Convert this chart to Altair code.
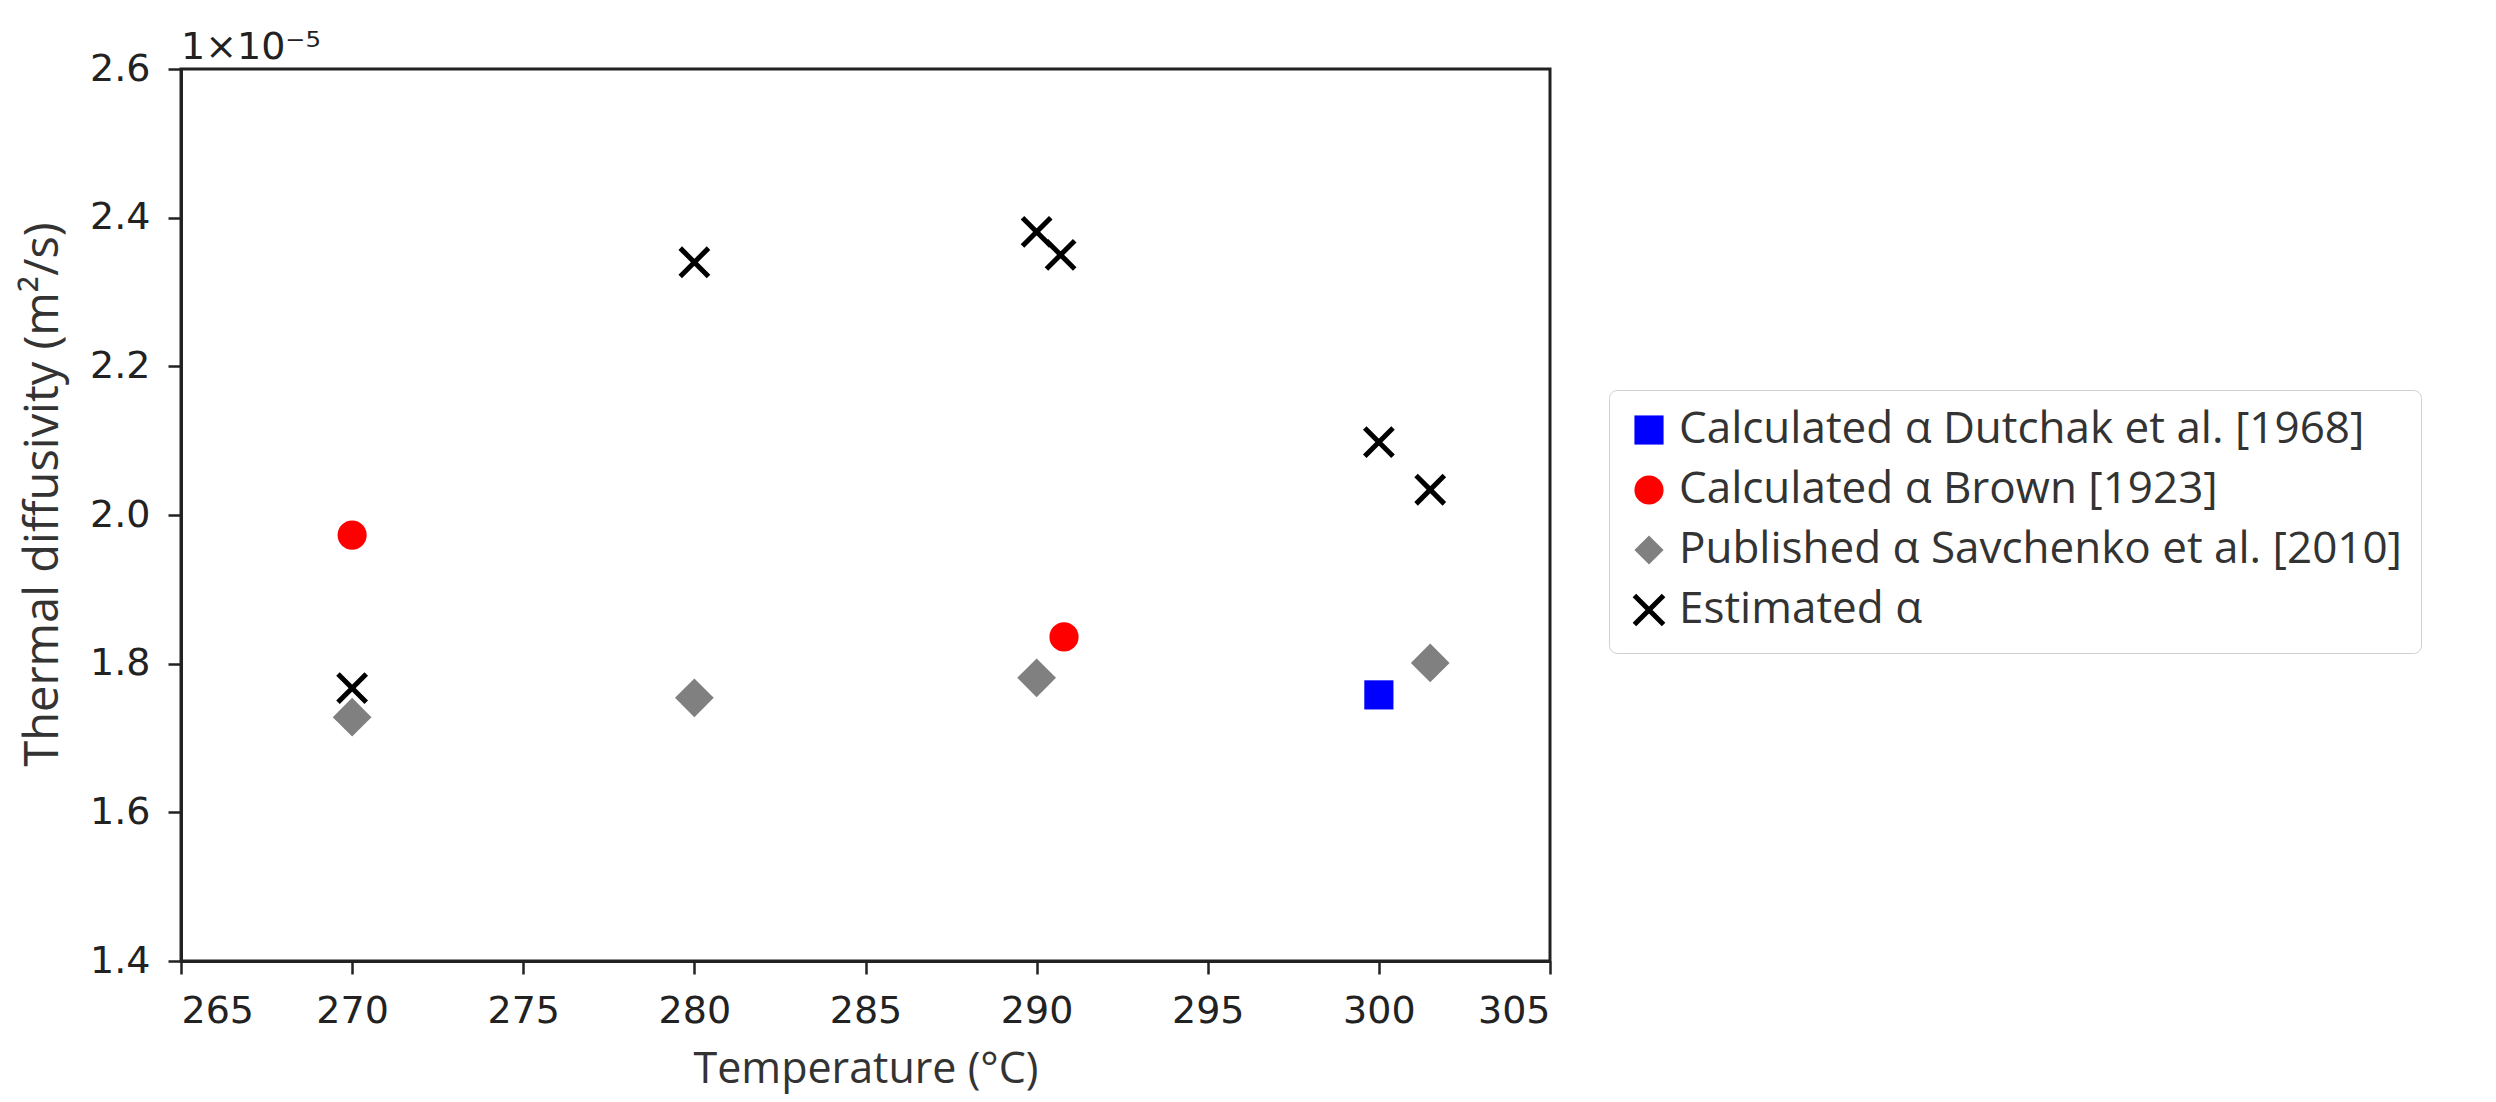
import altair as alt
import pandas as pd

# ---- data (values in units of 1e-5 m^2/s) ----
series_names = [
    "Calculated α Dutchak et al. [1968]",
    "Calculated α Brown [1923]",
    "Published α Savchenko et al. [2010]",
    "Estimated α",
]
dutchak_T = [300.0]
dutchak_a = [1.758]
brown_T = [270.0, 290.8]
brown_a = [1.973, 1.836]
savch_T = [270.0, 280.0, 290.0, 301.5]
savch_a = [1.728, 1.754, 1.781, 1.801]
est_T = [270.0, 280.0, 290.0, 290.7, 300.0, 301.5]
est_a = [1.767, 2.340, 2.381, 2.350, 2.098, 2.034]

x_ticks = [265, 270, 275, 280, 285, 290, 295, 300, 305]
y_ticks = [1.4, 1.6, 1.8, 2.0, 2.2, 2.4, 2.6]
scale_exp = 1e-5

# marker area (px^2) per series, same order as series_names
marker_sizes = [850, 850, 1500, 800]

rows = []
for name, Ts, As, sz in zip(series_names,
                            [dutchak_T, brown_T, savch_T, est_T],
                            [dutchak_a, brown_a, savch_a, est_a],
                            marker_sizes):
    for t, a in zip(Ts, As):
        rows.append({"series": name, "T": t, "alpha": a * scale_exp, "sz": sz})
df = pd.DataFrame(rows)

y_tick_vals = [v * scale_exp for v in y_ticks]

x_path = "M-1,-1L1,1M1,-1L-1,1"
fills = ["#0000ff", "#ff0000", "#808080", "transparent"]
strokes = ["transparent", "transparent", "transparent", "#000000"]
shapes = ["square", "circle", "diamond", x_path]

legend = alt.Legend(
    title=None,
    orient="none",
    legendX=1428,
    legendY=321,
    direction="vertical",
    strokeColor="#d0d0d0",
    fillColor="white",
    cornerRadius=8,
    padding=18,
    rowPadding=10,
    labelFont="Open Sans",
    labelFontSize=44,
    labelColor="#333333",
    labelOffset=8,
    labelLimit=1200,
    symbolStrokeWidth=5,
    symbolSize=850,
)

chart = alt.Chart(df).mark_point(strokeWidth=5, opacity=1).encode(
    x=alt.X("T:Q",
            scale=alt.Scale(domain=[265, 305], nice=False, zero=False),
            axis=alt.Axis(values=x_ticks, title="Temperature (°C)", format="d")),
    y=alt.Y("alpha:Q",
            scale=alt.Scale(domain=[y_tick_vals[0], y_tick_vals[-1]], nice=False, zero=False),
            axis=alt.Axis(values=y_tick_vals,
                          labelExpr="format(datum.value*1e5, '.1f')",
                          title="Thermal diffusivity (m²/s)",
                          titleY=425)),
    fill=alt.Fill("series:N", scale=alt.Scale(domain=series_names, range=fills), legend=legend, sort=series_names),
    stroke=alt.Stroke("series:N", scale=alt.Scale(domain=series_names, range=strokes), legend=legend, sort=series_names),
    shape=alt.Shape("series:N", scale=alt.Scale(domain=series_names, range=shapes), legend=legend, sort=series_names),
    size=alt.Size("sz:Q", scale=None, legend=None),
    order=alt.Order("series:N"),
).properties(
    width=1369,
    height=892,
    title=alt.TitleParams("1×10⁻⁵", anchor="start", frame="group",
                          font="DejaVu Sans", fontSize=38, fontWeight="normal",
                          color="#222222", offset=-17),
    padding={"left": 11, "top": 21, "right": 5, "bottom": 10},
).configure_view(
    stroke="#222222", strokeWidth=3
).configure_axis(
    grid=False,
    domainColor="#222222",
    domainWidth=3,
    tickColor="#222222",
    tickWidth=2.5,
    tickSize=13,
    labelFont="DejaVu Sans",
    labelFontSize=38,
    labelColor="#222222",
    labelPadding=18,
    titleFont="Open Sans",
    titleFontWeight="normal",
    titleColor="#333333",
).configure_axisX(
    titlePadding=18,
    titleFontSize=43,
).configure_axisY(
    titlePadding=22,
    titleFontSize=47,
)

chart.save("out.html", embed_options={"renderer": "svg", "actions": False})
